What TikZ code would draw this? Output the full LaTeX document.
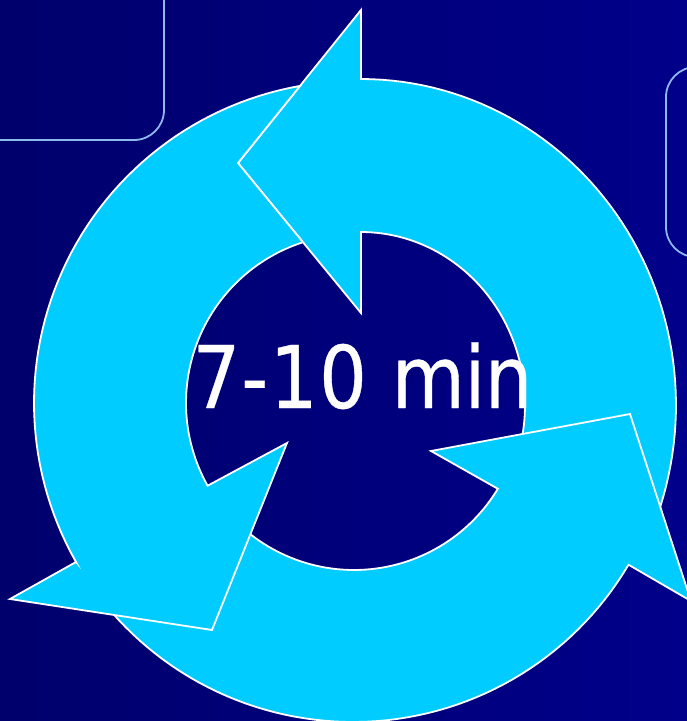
\documentclass[tikz,border=0pt]{standalone}
\usepackage{fontspec}
\setmainfont[FakeStretch=0.868,FakeBold=0.4]{DejaVu Sans}
\definecolor{bgleft}{HTML}{00006C}
\definecolor{bgright}{HTML}{00008A}
\definecolor{ringcyan}{HTML}{00CCFF}
\definecolor{framecol}{HTML}{8DB8EC}
\tikzset{
  arrowshape/.style={fill=ringcyan,draw=white,line width=1.8pt,line join=miter},
  framebox/.style={draw=framecol,line width=1.8pt,rounded corners=30pt},
  labeltext/.style={text=white,inner sep=0pt,font=\fontsize{86.5}{86.5}\selectfont,anchor=base}
}
\begin{document}
\begin{tikzpicture}[x=1pt,y=-1pt]
\useasboundingbox (0,0) rectangle (687,721);
\clip (0,0) rectangle (687,721);
\fill[left color=bgleft,right color=bgright] (0,0) rectangle (687,721);
\draw[framebox] (-60,-60) rectangle (164,140);
\draw[framebox] (666,67) rectangle (800,257);
% top arrow
\draw[arrowshape] (238,163) -- (361,10) -- (361,79)
  -- plot[domain=-90:20,samples=60] ({361+315*cos(\x)},{405+326*sin(\x)})
  -- plot[domain=12:-90,samples=60] ({361+164*cos(\x)},{405+173*sin(\x)})
  -- (361,313) -- cycle;
% bottom arrow
\draw[arrowshape] (630,414) -- (691,601) -- (629,565)
  -- plot[domain=30.6:139,samples=60] ({353+320*cos(\x)},{402+320*sin(\x)})
  -- plot[domain=129:31.1,samples=60] ({354+168*cos(\x)},{402+168*sin(\x)})
  -- (431,451) -- cycle;
% left arrow
\draw[arrowshape] (212,630) -- (10,599) -- (76,562)
  -- plot[domain=150.4:260,samples=60] ({356+322*cos(\x)},{403+322*sin(\x)})
  -- (238,163) -- (302,241)
  -- plot[domain=251.9:150.7,samples=60] ({355+169*cos(\x)},{403+169*sin(\x)})
  -- (287,443) -- cycle;
\node[labeltext] (label) at (362.5,408) {7\kern1pt-\kern1.5pt 1\kern1.5pt 0\kern1pt\ m\kern-.5pt i\kern-.5pt n};
\end{tikzpicture}
\end{document}
